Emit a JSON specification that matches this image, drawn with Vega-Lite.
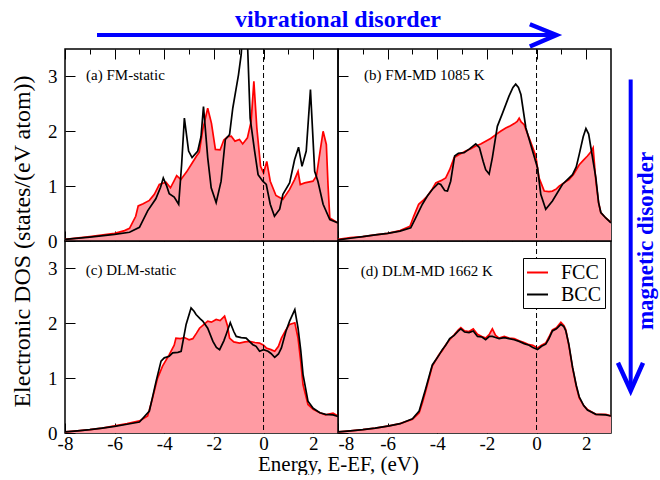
{
  "$schema": "https://vega.github.io/schema/vega-lite/v6.json",
  "padding": {"left": 9, "top": 6, "right": 0, "bottom": 0},
  "background": "white",
  "config": {
    "view": {"stroke": "#000", "strokeWidth": 1.5},
    "font": "Liberation Serif",
    "axis": {"domain": false, "grid": false, "tickColor": "#000", "tickWidth": 1, "labelFont": "Liberation Serif", "labelFontSize": 19, "labelColor": "#000", "titleFont": "Liberation Serif", "titleFontSize": 21, "titleFontWeight": "normal", "titleColor": "#000", "labelFlush": false},
    "text": {"font": "Liberation Serif"}
  },
  "datasets": {
    "dos": [
      {"p":"a","s":"FCC","E":-8,"d":0.03},{"p":"a","s":"FCC","E":-7,"d":0.08},{"p":"a","s":"FCC","E":-6,"d":0.14},{"p":"a","s":"FCC","E":-5.6,"d":0.19},{"p":"a","s":"FCC","E":-5.4,"d":0.23},{"p":"a","s":"FCC","E":-5.15,"d":0.45},{"p":"a","s":"FCC","E":-5.05,"d":0.64},{"p":"a","s":"FCC","E":-4.85,"d":0.68},{"p":"a","s":"FCC","E":-4.6,"d":0.74},{"p":"a","s":"FCC","E":-4.4,"d":0.85},{"p":"a","s":"FCC","E":-4.2,"d":1.03},{"p":"a","s":"FCC","E":-3.93,"d":1.07},{"p":"a","s":"FCC","E":-3.75,"d":0.97},{"p":"a","s":"FCC","E":-3.6,"d":1.1},{"p":"a","s":"FCC","E":-3.5,"d":1.19},{"p":"a","s":"FCC","E":-3.33,"d":1.12},{"p":"a","s":"FCC","E":-3.1,"d":1.26},{"p":"a","s":"FCC","E":-2.92,"d":1.39},{"p":"a","s":"FCC","E":-2.7,"d":1.55},{"p":"a","s":"FCC","E":-2.59,"d":1.62},{"p":"a","s":"FCC","E":-2.45,"d":2.03},{"p":"a","s":"FCC","E":-2.25,"d":2.42},{"p":"a","s":"FCC","E":-2.1,"d":2.15},{"p":"a","s":"FCC","E":-1.94,"d":1.67},{"p":"a","s":"FCC","E":-1.75,"d":1.66},{"p":"a","s":"FCC","E":-1.6,"d":1.84},{"p":"a","s":"FCC","E":-1.45,"d":1.9},{"p":"a","s":"FCC","E":-1.3,"d":1.91},{"p":"a","s":"FCC","E":-1.15,"d":1.82},{"p":"a","s":"FCC","E":-0.97,"d":1.85},{"p":"a","s":"FCC","E":-0.84,"d":1.77},{"p":"a","s":"FCC","E":-0.65,"d":1.88},{"p":"a","s":"FCC","E":-0.5,"d":2.18},{"p":"a","s":"FCC","E":-0.39,"d":2.91},{"p":"a","s":"FCC","E":-0.27,"d":2.06},{"p":"a","s":"FCC","E":-0.12,"d":1.36},{"p":"a","s":"FCC","E":0,"d":1.24},{"p":"a","s":"FCC","E":0.13,"d":1.45},{"p":"a","s":"FCC","E":0.27,"d":1.09},{"p":"a","s":"FCC","E":0.5,"d":0.83},{"p":"a","s":"FCC","E":0.78,"d":0.76},{"p":"a","s":"FCC","E":1.05,"d":0.94},{"p":"a","s":"FCC","E":1.25,"d":1.12},{"p":"a","s":"FCC","E":1.39,"d":1.27},{"p":"a","s":"FCC","E":1.48,"d":1.03},{"p":"a","s":"FCC","E":1.66,"d":1.06},{"p":"a","s":"FCC","E":1.99,"d":1.09},{"p":"a","s":"FCC","E":2.13,"d":1.18},{"p":"a","s":"FCC","E":2.3,"d":1.7},{"p":"a","s":"FCC","E":2.4,"d":2.0},{"p":"a","s":"FCC","E":2.53,"d":1.76},{"p":"a","s":"FCC","E":2.6,"d":1.0},{"p":"a","s":"FCC","E":2.67,"d":0.42},{"p":"a","s":"FCC","E":3,"d":0.33},
      {"p":"a","s":"BCC","E":-8,"d":0.03},{"p":"a","s":"BCC","E":-7,"d":0.07},{"p":"a","s":"BCC","E":-6,"d":0.12},{"p":"a","s":"BCC","E":-5.4,"d":0.16},{"p":"a","s":"BCC","E":-5.0,"d":0.25},{"p":"a","s":"BCC","E":-4.67,"d":0.55},{"p":"a","s":"BCC","E":-4.34,"d":0.77},{"p":"a","s":"BCC","E":-4.15,"d":0.98},{"p":"a","s":"BCC","E":-4.04,"d":1.15},{"p":"a","s":"BCC","E":-3.9,"d":1.0},{"p":"a","s":"BCC","E":-3.8,"d":0.86},{"p":"a","s":"BCC","E":-3.6,"d":0.8},{"p":"a","s":"BCC","E":-3.42,"d":0.67},{"p":"a","s":"BCC","E":-3.3,"d":1.4},{"p":"a","s":"BCC","E":-3.19,"d":2.24},{"p":"a","s":"BCC","E":-3.02,"d":1.64},{"p":"a","s":"BCC","E":-2.88,"d":1.52},{"p":"a","s":"BCC","E":-2.65,"d":1.64},{"p":"a","s":"BCC","E":-2.52,"d":1.9},{"p":"a","s":"BCC","E":-2.42,"d":2.45},{"p":"a","s":"BCC","E":-2.25,"d":1.52},{"p":"a","s":"BCC","E":-2.11,"d":0.97},{"p":"a","s":"BCC","E":-1.91,"d":0.7},{"p":"a","s":"BCC","E":-1.71,"d":1.09},{"p":"a","s":"BCC","E":-1.54,"d":1.85},{"p":"a","s":"BCC","E":-1.37,"d":1.94},{"p":"a","s":"BCC","E":-1.24,"d":2.42},{"p":"a","s":"BCC","E":-1.1,"d":2.79},{"p":"a","s":"BCC","E":-1.01,"d":3.03},{"p":"a","s":"BCC","E":-0.9,"d":3.4},{"p":"a","s":"BCC","E":-0.8,"d":4.2},{"p":"a","s":"BCC","E":-0.7,"d":4.2},{"p":"a","s":"BCC","E":-0.63,"d":3.4},{"p":"a","s":"BCC","E":-0.54,"d":2.24},{"p":"a","s":"BCC","E":-0.36,"d":1.64},{"p":"a","s":"BCC","E":-0.22,"d":1.21},{"p":"a","s":"BCC","E":-0.03,"d":1.09},{"p":"a","s":"BCC","E":0.11,"d":1.03},{"p":"a","s":"BCC","E":0.27,"d":0.67},{"p":"a","s":"BCC","E":0.44,"d":0.45},{"p":"a","s":"BCC","E":0.65,"d":0.58},{"p":"a","s":"BCC","E":0.78,"d":0.85},{"p":"a","s":"BCC","E":1.05,"d":1.06},{"p":"a","s":"BCC","E":1.25,"d":1.48},{"p":"a","s":"BCC","E":1.41,"d":1.71},{"p":"a","s":"BCC","E":1.55,"d":1.36},{"p":"a","s":"BCC","E":1.72,"d":1.64},{"p":"a","s":"BCC","E":1.89,"d":2.76},{"p":"a","s":"BCC","E":2.06,"d":1.27},{"p":"a","s":"BCC","E":2.19,"d":1.09},{"p":"a","s":"BCC","E":2.4,"d":0.67},{"p":"a","s":"BCC","E":2.67,"d":0.39},{"p":"a","s":"BCC","E":3,"d":0.33},
      {"p":"b","s":"FCC","E":-8,"d":0.03},{"p":"b","s":"FCC","E":-7.5,"d":0.06},{"p":"b","s":"FCC","E":-7,"d":0.08},{"p":"b","s":"FCC","E":-6.5,"d":0.11},{"p":"b","s":"FCC","E":-6,"d":0.14},{"p":"b","s":"FCC","E":-5.5,"d":0.19},{"p":"b","s":"FCC","E":-5.1,"d":0.27},{"p":"b","s":"FCC","E":-4.95,"d":0.45},{"p":"b","s":"FCC","E":-4.75,"d":0.67},{"p":"b","s":"FCC","E":-4.55,"d":0.75},{"p":"b","s":"FCC","E":-4.4,"d":0.82},{"p":"b","s":"FCC","E":-4.2,"d":0.95},{"p":"b","s":"FCC","E":-4.06,"d":1.06},{"p":"b","s":"FCC","E":-3.85,"d":1.1},{"p":"b","s":"FCC","E":-3.66,"d":1.15},{"p":"b","s":"FCC","E":-3.5,"d":1.3},{"p":"b","s":"FCC","E":-3.32,"d":1.52},{"p":"b","s":"FCC","E":-3.1,"d":1.58},{"p":"b","s":"FCC","E":-2.85,"d":1.64},{"p":"b","s":"FCC","E":-2.65,"d":1.68},{"p":"b","s":"FCC","E":-2.45,"d":1.73},{"p":"b","s":"FCC","E":-2.25,"d":1.77},{"p":"b","s":"FCC","E":-2.05,"d":1.82},{"p":"b","s":"FCC","E":-1.85,"d":1.87},{"p":"b","s":"FCC","E":-1.64,"d":1.94},{"p":"b","s":"FCC","E":-1.45,"d":2.0},{"p":"b","s":"FCC","E":-1.24,"d":2.06},{"p":"b","s":"FCC","E":-1.05,"d":2.1},{"p":"b","s":"FCC","E":-0.9,"d":2.14},{"p":"b","s":"FCC","E":-0.78,"d":2.18},{"p":"b","s":"FCC","E":-0.7,"d":2.24},{"p":"b","s":"FCC","E":-0.62,"d":2.17},{"p":"b","s":"FCC","E":-0.5,"d":2.12},{"p":"b","s":"FCC","E":-0.3,"d":1.88},{"p":"b","s":"FCC","E":-0.15,"d":1.7},{"p":"b","s":"FCC","E":-0.03,"d":1.55},{"p":"b","s":"FCC","E":0.1,"d":1.15},{"p":"b","s":"FCC","E":0.31,"d":0.91},{"p":"b","s":"FCC","E":0.5,"d":0.9},{"p":"b","s":"FCC","E":0.64,"d":0.91},{"p":"b","s":"FCC","E":0.8,"d":0.95},{"p":"b","s":"FCC","E":0.91,"d":1.0},{"p":"b","s":"FCC","E":1.1,"d":1.06},{"p":"b","s":"FCC","E":1.31,"d":1.12},{"p":"b","s":"FCC","E":1.5,"d":1.22},{"p":"b","s":"FCC","E":1.72,"d":1.39},{"p":"b","s":"FCC","E":1.9,"d":1.48},{"p":"b","s":"FCC","E":2.05,"d":1.55},{"p":"b","s":"FCC","E":2.2,"d":1.63},{"p":"b","s":"FCC","E":2.28,"d":1.7},{"p":"b","s":"FCC","E":2.39,"d":1.09},{"p":"b","s":"FCC","E":2.5,"d":0.7},{"p":"b","s":"FCC","E":2.59,"d":0.52},{"p":"b","s":"FCC","E":2.79,"d":0.42},{"p":"b","s":"FCC","E":3,"d":0.34},
      {"p":"b","s":"BCC","E":-8,"d":0.02},{"p":"b","s":"BCC","E":-7.5,"d":0.05},{"p":"b","s":"BCC","E":-7,"d":0.08},{"p":"b","s":"BCC","E":-6.5,"d":0.11},{"p":"b","s":"BCC","E":-6,"d":0.14},{"p":"b","s":"BCC","E":-5.5,"d":0.18},{"p":"b","s":"BCC","E":-5.07,"d":0.24},{"p":"b","s":"BCC","E":-4.87,"d":0.42},{"p":"b","s":"BCC","E":-4.6,"d":0.67},{"p":"b","s":"BCC","E":-4.4,"d":0.82},{"p":"b","s":"BCC","E":-4.2,"d":0.94},{"p":"b","s":"BCC","E":-3.96,"d":1.05},{"p":"b","s":"BCC","E":-3.86,"d":1.03},{"p":"b","s":"BCC","E":-3.7,"d":0.92},{"p":"b","s":"BCC","E":-3.59,"d":0.91},{"p":"b","s":"BCC","E":-3.46,"d":1.09},{"p":"b","s":"BCC","E":-3.3,"d":1.55},{"p":"b","s":"BCC","E":-3.15,"d":1.6},{"p":"b","s":"BCC","E":-2.92,"d":1.61},{"p":"b","s":"BCC","E":-2.7,"d":1.68},{"p":"b","s":"BCC","E":-2.45,"d":1.77},{"p":"b","s":"BCC","E":-2.3,"d":1.7},{"p":"b","s":"BCC","E":-2.15,"d":1.45},{"p":"b","s":"BCC","E":-2.05,"d":1.3},{"p":"b","s":"BCC","E":-1.91,"d":1.22},{"p":"b","s":"BCC","E":-1.78,"d":1.52},{"p":"b","s":"BCC","E":-1.58,"d":2.09},{"p":"b","s":"BCC","E":-1.37,"d":2.33},{"p":"b","s":"BCC","E":-1.11,"d":2.64},{"p":"b","s":"BCC","E":-0.95,"d":2.8},{"p":"b","s":"BCC","E":-0.84,"d":2.86},{"p":"b","s":"BCC","E":-0.73,"d":2.8},{"p":"b","s":"BCC","E":-0.63,"d":2.67},{"p":"b","s":"BCC","E":-0.43,"d":2.06},{"p":"b","s":"BCC","E":-0.16,"d":1.64},{"p":"b","s":"BCC","E":0.04,"d":1.33},{"p":"b","s":"BCC","E":0.17,"d":0.85},{"p":"b","s":"BCC","E":0.37,"d":0.58},{"p":"b","s":"BCC","E":0.64,"d":0.73},{"p":"b","s":"BCC","E":1.04,"d":1.03},{"p":"b","s":"BCC","E":1.45,"d":1.21},{"p":"b","s":"BCC","E":1.6,"d":1.35},{"p":"b","s":"BCC","E":1.72,"d":1.58},{"p":"b","s":"BCC","E":1.88,"d":1.9},{"p":"b","s":"BCC","E":1.99,"d":2.05},{"p":"b","s":"BCC","E":2.1,"d":1.95},{"p":"b","s":"BCC","E":2.19,"d":1.7},{"p":"b","s":"BCC","E":2.39,"d":1.15},{"p":"b","s":"BCC","E":2.5,"d":0.7},{"p":"b","s":"BCC","E":2.59,"d":0.52},{"p":"b","s":"BCC","E":2.79,"d":0.42},{"p":"b","s":"BCC","E":3,"d":0.33},
      {"p":"c","s":"FCC","E":-8,"d":0.02},{"p":"c","s":"FCC","E":-7.5,"d":0.04},{"p":"c","s":"FCC","E":-7,"d":0.06},{"p":"c","s":"FCC","E":-6.5,"d":0.09},{"p":"c","s":"FCC","E":-6,"d":0.13},{"p":"c","s":"FCC","E":-5.5,"d":0.17},{"p":"c","s":"FCC","E":-5,"d":0.22},{"p":"c","s":"FCC","E":-4.67,"d":0.31},{"p":"c","s":"FCC","E":-4.47,"d":0.64},{"p":"c","s":"FCC","E":-4.27,"d":1.0},{"p":"c","s":"FCC","E":-4.07,"d":1.22},{"p":"c","s":"FCC","E":-3.8,"d":1.43},{"p":"c","s":"FCC","E":-3.6,"d":1.6},{"p":"c","s":"FCC","E":-3.53,"d":1.73},{"p":"c","s":"FCC","E":-3.35,"d":1.72},{"p":"c","s":"FCC","E":-3.19,"d":1.74},{"p":"c","s":"FCC","E":-3.0,"d":1.7},{"p":"c","s":"FCC","E":-2.85,"d":1.72},{"p":"c","s":"FCC","E":-2.7,"d":1.82},{"p":"c","s":"FCC","E":-2.58,"d":1.91},{"p":"c","s":"FCC","E":-2.4,"d":1.98},{"p":"c","s":"FCC","E":-2.25,"d":2.04},{"p":"c","s":"FCC","E":-2.1,"d":2.02},{"p":"c","s":"FCC","E":-1.91,"d":2.07},{"p":"c","s":"FCC","E":-1.75,"d":2.05},{"p":"c","s":"FCC","E":-1.57,"d":2.13},{"p":"c","s":"FCC","E":-1.45,"d":1.95},{"p":"c","s":"FCC","E":-1.37,"d":1.73},{"p":"c","s":"FCC","E":-1.2,"d":1.66},{"p":"c","s":"FCC","E":-0.97,"d":1.64},{"p":"c","s":"FCC","E":-0.75,"d":1.66},{"p":"c","s":"FCC","E":-0.56,"d":1.67},{"p":"c","s":"FCC","E":-0.35,"d":1.65},{"p":"c","s":"FCC","E":-0.16,"d":1.64},{"p":"c","s":"FCC","E":0.0,"d":1.6},{"p":"c","s":"FCC","E":0.11,"d":1.55},{"p":"c","s":"FCC","E":0.3,"d":1.52},{"p":"c","s":"FCC","E":0.45,"d":1.49},{"p":"c","s":"FCC","E":0.6,"d":1.58},{"p":"c","s":"FCC","E":0.72,"d":1.73},{"p":"c","s":"FCC","E":0.9,"d":1.88},{"p":"c","s":"FCC","E":1.05,"d":1.98},{"p":"c","s":"FCC","E":1.26,"d":2.01},{"p":"c","s":"FCC","E":1.39,"d":1.73},{"p":"c","s":"FCC","E":1.5,"d":1.3},{"p":"c","s":"FCC","E":1.59,"d":0.88},{"p":"c","s":"FCC","E":1.79,"d":0.52},{"p":"c","s":"FCC","E":2.0,"d":0.43},{"p":"c","s":"FCC","E":2.27,"d":0.37},{"p":"c","s":"FCC","E":2.5,"d":0.33},{"p":"c","s":"FCC","E":2.8,"d":0.36},{"p":"c","s":"FCC","E":3,"d":0.31},
      {"p":"c","s":"BCC","E":-8,"d":0.02},{"p":"c","s":"BCC","E":-7.5,"d":0.04},{"p":"c","s":"BCC","E":-7,"d":0.06},{"p":"c","s":"BCC","E":-6.5,"d":0.09},{"p":"c","s":"BCC","E":-6,"d":0.12},{"p":"c","s":"BCC","E":-5.5,"d":0.16},{"p":"c","s":"BCC","E":-5,"d":0.2},{"p":"c","s":"BCC","E":-4.6,"d":0.4},{"p":"c","s":"BCC","E":-4.45,"d":0.7},{"p":"c","s":"BCC","E":-4.33,"d":0.94},{"p":"c","s":"BCC","E":-4.13,"d":1.31},{"p":"c","s":"BCC","E":-4.0,"d":1.37},{"p":"c","s":"BCC","E":-3.8,"d":1.4},{"p":"c","s":"BCC","E":-3.66,"d":1.46},{"p":"c","s":"BCC","E":-3.45,"d":1.47},{"p":"c","s":"BCC","E":-3.32,"d":1.49},{"p":"c","s":"BCC","E":-3.12,"d":1.98},{"p":"c","s":"BCC","E":-2.92,"d":2.28},{"p":"c","s":"BCC","E":-2.8,"d":2.22},{"p":"c","s":"BCC","E":-2.72,"d":2.16},{"p":"c","s":"BCC","E":-2.55,"d":2.08},{"p":"c","s":"BCC","E":-2.45,"d":2.04},{"p":"c","s":"BCC","E":-2.25,"d":1.91},{"p":"c","s":"BCC","E":-2.04,"d":1.67},{"p":"c","s":"BCC","E":-1.9,"d":1.56},{"p":"c","s":"BCC","E":-1.77,"d":1.52},{"p":"c","s":"BCC","E":-1.6,"d":1.68},{"p":"c","s":"BCC","E":-1.51,"d":1.79},{"p":"c","s":"BCC","E":-1.34,"d":2.01},{"p":"c","s":"BCC","E":-1.2,"d":1.85},{"p":"c","s":"BCC","E":-1.1,"d":1.76},{"p":"c","s":"BCC","E":-0.9,"d":1.74},{"p":"c","s":"BCC","E":-0.7,"d":1.73},{"p":"c","s":"BCC","E":-0.55,"d":1.66},{"p":"c","s":"BCC","E":-0.43,"d":1.61},{"p":"c","s":"BCC","E":-0.3,"d":1.58},{"p":"c","s":"BCC","E":-0.16,"d":1.49},{"p":"c","s":"BCC","E":0.0,"d":1.52},{"p":"c","s":"BCC","E":0.18,"d":1.49},{"p":"c","s":"BCC","E":0.3,"d":1.45},{"p":"c","s":"BCC","E":0.45,"d":1.38},{"p":"c","s":"BCC","E":0.6,"d":1.44},{"p":"c","s":"BCC","E":0.72,"d":1.55},{"p":"c","s":"BCC","E":0.9,"d":1.85},{"p":"c","s":"BCC","E":1.05,"d":2.04},{"p":"c","s":"BCC","E":1.26,"d":2.25},{"p":"c","s":"BCC","E":1.39,"d":1.91},{"p":"c","s":"BCC","E":1.5,"d":1.5},{"p":"c","s":"BCC","E":1.59,"d":1.07},{"p":"c","s":"BCC","E":1.79,"d":0.58},{"p":"c","s":"BCC","E":2.0,"d":0.45},{"p":"c","s":"BCC","E":2.27,"d":0.37},{"p":"c","s":"BCC","E":2.5,"d":0.34},{"p":"c","s":"BCC","E":2.8,"d":0.33},{"p":"c","s":"BCC","E":3,"d":0.3},
      {"p":"d","s":"FCC","E":-8,"d":0.02},{"p":"d","s":"FCC","E":-7.5,"d":0.04},{"p":"d","s":"FCC","E":-7,"d":0.06},{"p":"d","s":"FCC","E":-6.5,"d":0.09},{"p":"d","s":"FCC","E":-5.94,"d":0.13},{"p":"d","s":"FCC","E":-5.5,"d":0.17},{"p":"d","s":"FCC","E":-5.0,"d":0.25},{"p":"d","s":"FCC","E":-4.73,"d":0.37},{"p":"d","s":"FCC","E":-4.6,"d":0.55},{"p":"d","s":"FCC","E":-4.47,"d":0.76},{"p":"d","s":"FCC","E":-4.3,"d":1.05},{"p":"d","s":"FCC","E":-4.2,"d":1.22},{"p":"d","s":"FCC","E":-3.93,"d":1.43},{"p":"d","s":"FCC","E":-3.8,"d":1.5},{"p":"d","s":"FCC","E":-3.66,"d":1.61},{"p":"d","s":"FCC","E":-3.5,"d":1.7},{"p":"d","s":"FCC","E":-3.32,"d":1.79},{"p":"d","s":"FCC","E":-3.15,"d":1.88},{"p":"d","s":"FCC","E":-3.05,"d":1.92},{"p":"d","s":"FCC","E":-2.9,"d":1.86},{"p":"d","s":"FCC","E":-2.72,"d":1.85},{"p":"d","s":"FCC","E":-2.55,"d":1.9},{"p":"d","s":"FCC","E":-2.38,"d":1.8},{"p":"d","s":"FCC","E":-2.2,"d":1.76},{"p":"d","s":"FCC","E":-2.05,"d":1.73},{"p":"d","s":"FCC","E":-1.9,"d":1.8},{"p":"d","s":"FCC","E":-1.78,"d":1.9},{"p":"d","s":"FCC","E":-1.65,"d":1.78},{"p":"d","s":"FCC","E":-1.51,"d":1.73},{"p":"d","s":"FCC","E":-1.3,"d":1.76},{"p":"d","s":"FCC","E":-1.11,"d":1.73},{"p":"d","s":"FCC","E":-0.9,"d":1.72},{"p":"d","s":"FCC","E":-0.7,"d":1.68},{"p":"d","s":"FCC","E":-0.5,"d":1.65},{"p":"d","s":"FCC","E":-0.3,"d":1.61},{"p":"d","s":"FCC","E":-0.15,"d":1.6},{"p":"d","s":"FCC","E":0.04,"d":1.55},{"p":"d","s":"FCC","E":0.2,"d":1.6},{"p":"d","s":"FCC","E":0.37,"d":1.64},{"p":"d","s":"FCC","E":0.5,"d":1.75},{"p":"d","s":"FCC","E":0.64,"d":1.88},{"p":"d","s":"FCC","E":0.8,"d":1.92},{"p":"d","s":"FCC","E":0.98,"d":2.02},{"p":"d","s":"FCC","E":1.1,"d":1.96},{"p":"d","s":"FCC","E":1.18,"d":1.88},{"p":"d","s":"FCC","E":1.3,"d":1.6},{"p":"d","s":"FCC","E":1.45,"d":1.19},{"p":"d","s":"FCC","E":1.6,"d":0.85},{"p":"d","s":"FCC","E":1.72,"d":0.64},{"p":"d","s":"FCC","E":1.9,"d":0.5},{"p":"d","s":"FCC","E":2.05,"d":0.43},{"p":"d","s":"FCC","E":2.39,"d":0.34},{"p":"d","s":"FCC","E":2.79,"d":0.34},{"p":"d","s":"FCC","E":3,"d":0.31},
      {"p":"d","s":"BCC","E":-8,"d":0.02},{"p":"d","s":"BCC","E":-7.5,"d":0.04},{"p":"d","s":"BCC","E":-7,"d":0.06},{"p":"d","s":"BCC","E":-6.5,"d":0.09},{"p":"d","s":"BCC","E":-5.94,"d":0.13},{"p":"d","s":"BCC","E":-5.5,"d":0.17},{"p":"d","s":"BCC","E":-5.0,"d":0.26},{"p":"d","s":"BCC","E":-4.73,"d":0.4},{"p":"d","s":"BCC","E":-4.6,"d":0.6},{"p":"d","s":"BCC","E":-4.47,"d":0.8},{"p":"d","s":"BCC","E":-4.3,"d":1.08},{"p":"d","s":"BCC","E":-4.2,"d":1.24},{"p":"d","s":"BCC","E":-3.93,"d":1.42},{"p":"d","s":"BCC","E":-3.8,"d":1.52},{"p":"d","s":"BCC","E":-3.66,"d":1.6},{"p":"d","s":"BCC","E":-3.5,"d":1.72},{"p":"d","s":"BCC","E":-3.32,"d":1.78},{"p":"d","s":"BCC","E":-3.15,"d":1.86},{"p":"d","s":"BCC","E":-3.05,"d":1.9},{"p":"d","s":"BCC","E":-2.9,"d":1.84},{"p":"d","s":"BCC","E":-2.72,"d":1.83},{"p":"d","s":"BCC","E":-2.55,"d":1.86},{"p":"d","s":"BCC","E":-2.38,"d":1.76},{"p":"d","s":"BCC","E":-2.2,"d":1.75},{"p":"d","s":"BCC","E":-2.05,"d":1.7},{"p":"d","s":"BCC","E":-1.9,"d":1.76},{"p":"d","s":"BCC","E":-1.78,"d":1.76},{"p":"d","s":"BCC","E":-1.65,"d":1.74},{"p":"d","s":"BCC","E":-1.51,"d":1.72},{"p":"d","s":"BCC","E":-1.3,"d":1.74},{"p":"d","s":"BCC","E":-1.11,"d":1.72},{"p":"d","s":"BCC","E":-0.9,"d":1.7},{"p":"d","s":"BCC","E":-0.7,"d":1.67},{"p":"d","s":"BCC","E":-0.5,"d":1.63},{"p":"d","s":"BCC","E":-0.3,"d":1.6},{"p":"d","s":"BCC","E":-0.15,"d":1.56},{"p":"d","s":"BCC","E":0.04,"d":1.52},{"p":"d","s":"BCC","E":0.2,"d":1.58},{"p":"d","s":"BCC","E":0.37,"d":1.62},{"p":"d","s":"BCC","E":0.5,"d":1.72},{"p":"d","s":"BCC","E":0.64,"d":1.86},{"p":"d","s":"BCC","E":0.8,"d":1.9},{"p":"d","s":"BCC","E":0.98,"d":1.98},{"p":"d","s":"BCC","E":1.1,"d":1.94},{"p":"d","s":"BCC","E":1.18,"d":1.86},{"p":"d","s":"BCC","E":1.3,"d":1.62},{"p":"d","s":"BCC","E":1.45,"d":1.2},{"p":"d","s":"BCC","E":1.6,"d":0.87},{"p":"d","s":"BCC","E":1.72,"d":0.66},{"p":"d","s":"BCC","E":1.9,"d":0.5},{"p":"d","s":"BCC","E":2.05,"d":0.42},{"p":"d","s":"BCC","E":2.39,"d":0.34},{"p":"d","s":"BCC","E":2.79,"d":0.33},{"p":"d","s":"BCC","E":3,"d":0.31}
    ]
  },
  "columns": 2,
  "spacing": 0,
  "bounds": "flush",
  "resolve": {"scale": {"x": "independent", "y": "independent", "color": "independent"}, "axis": {"x": "independent", "y": "independent"}, "legend": {"color": "independent"}},
  "concat": [
    {
      "width": 273, "height": 192,
      "resolve": {"axis": {"x": "independent"}},
      "layer": [
        {"data": {"name": "dos"}, "transform": [{"filter": "datum.p === 'a' && datum.s === 'FCC'"}],
         "mark": {"type": "area", "color": "#ff9ba3", "opacity": 1, "clip": true},
         "encoding": {
           "x": {"field": "E", "type": "quantitative", "scale": {"domain": [-8, 3]}, "axis": {"orient": "bottom", "values": [-8,-7,-6,-5,-4,-3,-2,-1,0,1,2], "labels": false, "tickSize": {"condition": {"test": "datum.value % 2 === 0", "value": -10}, "value": -5}, "title": null}},
           "y": {"field": "d", "type": "quantitative", "scale": {"domain": [0, 3.5]}, "axis": {"orient": "left", "values": [0,0.5,1,1.5,2,2.5,3], "labelExpr": "datum.value % 1 === 0 ? '' + datum.value : ''", "tickSize": {"condition": {"test": "datum.value % 1 === 0", "value": -10}, "value": -5}, "labelPadding": 18, "title": "Electronic DOS (states/(eV atom))", "titleFontSize": 24, "titleY": 192, "titlePadding": 13}}}},
        {"data": {"name": "dos"}, "transform": [{"filter": "datum.p === 'a'"}],
         "mark": {"type": "line", "strokeWidth": 1.7, "clip": true},
         "encoding": {"x": {"field": "E", "type": "quantitative", "axis": null}, "y": {"field": "d", "type": "quantitative"},
           "color": {"field": "s", "type": "nominal", "scale": {"domain": ["FCC", "BCC"], "range": ["#ff0000", "#000000"]}, "legend": null}}},
        {"data": {"values": [{"E": 0}]},
         "mark": {"type": "rule", "color": "#000", "strokeWidth": 1, "strokeDash": [5, 3]},
         "encoding": {"x": {"field": "E", "type": "quantitative", "axis": {"orient": "top", "values": [-8,-7,-6,-5,-4,-3,-2,-1,0,1,2], "labels": false, "tickSize": {"condition": {"test": "datum.value % 2 === 0", "value": -10}, "value": -5}, "title": null}}}},
        {"data": {"values": [{"E": -7.15, "d": 3.03, "t": "(a) FM-static"}]},
         "mark": {"type": "text", "align": "left", "baseline": "middle", "font": "Liberation Serif", "fontSize": 15, "color": "#000"},
         "encoding": {"x": {"field": "E", "type": "quantitative", "axis": null}, "y": {"field": "d", "type": "quantitative"}, "text": {"field": "t"}}},
        {"data": {"values": [{"E": -6.71, "E2": 11.74, "d": 3.755}]},
         "mark": {"type": "rule", "color": "#0000ff", "strokeWidth": 4, "clip": false},
         "encoding": {"x": {"field": "E", "type": "quantitative", "axis": null}, "x2": {"field": "E2"}, "y": {"field": "d", "type": "quantitative"}}},
        {"data": {"values": [{"E": 10.73, "d": 3.951, "o": 1}, {"E": 11.8, "d": 3.755, "o": 2}, {"E": 10.73, "d": 3.545, "o": 3}]},
         "mark": {"type": "line", "color": "#0000ff", "strokeWidth": 4.5, "strokeJoin": "miter", "clip": false},
         "encoding": {"x": {"field": "E", "type": "quantitative", "axis": null}, "y": {"field": "d", "type": "quantitative"}, "order": {"field": "o"}}},
        {"data": {"values": [{"E": 3, "d": 3.91, "t": "vibrational disorder"}]},
         "mark": {"type": "text", "font": "Liberation Serif", "fontSize": 24, "fontWeight": "bold", "color": "#0000ff", "baseline": "alphabetic", "align": "center"},
         "encoding": {"x": {"field": "E", "type": "quantitative", "axis": null}, "y": {"field": "d", "type": "quantitative"}, "text": {"field": "t"}}}
      ]
    },
    {
      "width": 273, "height": 192,
      "resolve": {"axis": {"x": "independent"}},
      "layer": [
        {"data": {"name": "dos"}, "transform": [{"filter": "datum.p === 'b' && datum.s === 'FCC'"}],
         "mark": {"type": "area", "color": "#ff9ba3", "opacity": 1, "clip": true},
         "encoding": {
           "x": {"field": "E", "type": "quantitative", "scale": {"domain": [-8, 3]}, "axis": {"orient": "bottom", "values": [-8,-7,-6,-5,-4,-3,-2,-1,0,1,2], "labels": false, "tickSize": {"condition": {"test": "datum.value % 2 === 0", "value": -10}, "value": -5}, "title": null}},
           "y": {"field": "d", "type": "quantitative", "scale": {"domain": [0, 3.5]}, "axis": {"orient": "left", "values": [0,0.5,1,1.5,2,2.5,3], "labels": false, "tickSize": {"condition": {"test": "datum.value % 1 === 0", "value": -10}, "value": -5}, "title": null}}}},
        {"data": {"name": "dos"}, "transform": [{"filter": "datum.p === 'b'"}],
         "mark": {"type": "line", "strokeWidth": 1.7, "clip": true},
         "encoding": {"x": {"field": "E", "type": "quantitative", "axis": null}, "y": {"field": "d", "type": "quantitative"},
           "color": {"field": "s", "type": "nominal", "scale": {"domain": ["FCC", "BCC"], "range": ["#ff0000", "#000000"]}, "legend": null}}},
        {"data": {"values": [{"E": 0}]},
         "mark": {"type": "rule", "color": "#000", "strokeWidth": 1, "strokeDash": [5, 3]},
         "encoding": {"x": {"field": "E", "type": "quantitative", "axis": {"orient": "top", "values": [-8,-7,-6,-5,-4,-3,-2,-1,0,1,2], "labels": false, "tickSize": {"condition": {"test": "datum.value % 2 === 0", "value": -10}, "value": -5}, "title": null}}}},
        {"data": {"values": [{"E": -6.95, "d": 3.03, "t": "(b) FM-MD 1085 K"}]},
         "mark": {"type": "text", "align": "left", "baseline": "middle", "font": "Liberation Serif", "fontSize": 15, "color": "#000"},
         "encoding": {"x": {"field": "E", "type": "quantitative", "axis": null}, "y": {"field": "d", "type": "quantitative"}, "text": {"field": "t"}}},
        {"data": {"values": [{"E": 3.793, "d": 2.945, "d2": -2.66}]},
         "mark": {"type": "rule", "color": "#0000ff", "strokeWidth": 4, "clip": false},
         "encoding": {"x": {"field": "E", "type": "quantitative", "axis": null}, "y": {"field": "d", "type": "quantitative"}, "y2": {"field": "d2"}}},
        {"data": {"values": [{"E": 3.28, "d": -2.22, "o": 1}, {"E": 3.793, "d": -2.73, "o": 2}, {"E": 4.29, "d": -2.22, "o": 3}]},
         "mark": {"type": "line", "color": "#0000ff", "strokeWidth": 4.5, "strokeJoin": "miter", "clip": false},
         "encoding": {"x": {"field": "E", "type": "quantitative", "axis": null}, "y": {"field": "d", "type": "quantitative"}, "order": {"field": "o"}}},
        {"data": {"values": [{"E": 4.43, "d": 0, "t": "magnetic disorder"}]},
         "mark": {"type": "text", "font": "Liberation Serif", "fontSize": 23, "fontWeight": "bold", "color": "#0000ff", "baseline": "middle", "align": "center", "angle": 270},
         "encoding": {"x": {"field": "E", "type": "quantitative", "axis": null}, "y": {"field": "d", "type": "quantitative"}, "text": {"field": "t"}}}
      ]
    },
    {
      "width": 273, "height": 192,
      "layer": [
        {"data": {"name": "dos"}, "transform": [{"filter": "datum.p === 'c' && datum.s === 'FCC'"}],
         "mark": {"type": "area", "color": "#ff9ba3", "opacity": 1, "clip": true},
         "encoding": {
           "x": {"field": "E", "type": "quantitative", "scale": {"domain": [-8, 3]}, "axis": {"orient": "bottom", "values": [-8,-7,-6,-5,-4,-3,-2,-1,0,1,2], "labelExpr": "datum.value % 2 === 0 ? '' + datum.value : ''", "tickSize": {"condition": {"test": "datum.value % 2 === 0", "value": -10}, "value": -5}, "labelPadding": 11, "title": "Energy, E-EF, (eV)", "titleX": 273, "titlePadding": 0}},
           "y": {"field": "d", "type": "quantitative", "scale": {"domain": [0, 3.5]}, "axis": {"orient": "left", "values": [0,0.5,1,1.5,2,2.5,3], "labelExpr": "datum.value % 1 === 0 ? '' + datum.value : ''", "tickSize": {"condition": {"test": "datum.value % 1 === 0", "value": -10}, "value": -5}, "labelPadding": 18, "title": null}}}},
        {"data": {"name": "dos"}, "transform": [{"filter": "datum.p === 'c'"}],
         "mark": {"type": "line", "strokeWidth": 1.7, "clip": true},
         "encoding": {"x": {"field": "E", "type": "quantitative"}, "y": {"field": "d", "type": "quantitative"},
           "color": {"field": "s", "type": "nominal", "scale": {"domain": ["FCC", "BCC"], "range": ["#ff0000", "#000000"]}, "legend": null}}},
        {"data": {"values": [{"E": 0}]},
         "mark": {"type": "rule", "color": "#000", "strokeWidth": 1, "strokeDash": [5, 3]},
         "encoding": {"x": {"field": "E", "type": "quantitative"}}},
        {"data": {"values": [{"E": -7.16, "d": 2.98, "t": "(c) DLM-static"}]},
         "mark": {"type": "text", "align": "left", "baseline": "middle", "font": "Liberation Serif", "fontSize": 15, "color": "#000"},
         "encoding": {"x": {"field": "E", "type": "quantitative"}, "y": {"field": "d", "type": "quantitative"}, "text": {"field": "t"}}}
      ]
    },
    {
      "width": 273, "height": 192,
      "layer": [
        {"data": {"name": "dos"}, "transform": [{"filter": "datum.p === 'd' && datum.s === 'FCC'"}],
         "mark": {"type": "area", "color": "#ff9ba3", "opacity": 1, "clip": true},
         "encoding": {
           "x": {"field": "E", "type": "quantitative", "scale": {"domain": [-8, 3]}, "axis": {"orient": "bottom", "values": [-8,-7,-6,-5,-4,-3,-2,-1,0,1,2], "labelExpr": "datum.value % 2 === 0 ? '' + datum.value : ''", "tickSize": {"condition": {"test": "datum.value % 2 === 0", "value": -10}, "value": -5}, "labelPadding": 11, "labelFlush": true, "title": null}},
           "y": {"field": "d", "type": "quantitative", "scale": {"domain": [0, 3.5]}, "axis": {"orient": "left", "values": [0,0.5,1,1.5,2,2.5,3], "labels": false, "tickSize": {"condition": {"test": "datum.value % 1 === 0", "value": -10}, "value": -5}, "title": null}}}},
        {"data": {"name": "dos"}, "transform": [{"filter": "datum.p === 'd'"}],
         "mark": {"type": "line", "strokeWidth": 1.7, "clip": true},
         "encoding": {"x": {"field": "E", "type": "quantitative"}, "y": {"field": "d", "type": "quantitative"},
           "color": {"field": "s", "type": "nominal", "scale": {"domain": ["FCC", "BCC"], "range": ["#ff0000", "#000000"]},
             "legend": {"orient": "none", "legendX": 185, "legendY": 17, "title": null, "symbolType": "stroke", "symbolSize": 441, "symbolStrokeWidth": 2, "labelFont": "Liberation Serif", "labelFontSize": 20, "labelColor": "#000", "labelOffset": 12, "strokeColor": "#000", "fillColor": "#fff", "padding": 3, "rowPadding": -3}}}},
        {"data": {"values": [{"E": 0}]},
         "mark": {"type": "rule", "color": "#000", "strokeWidth": 1, "strokeDash": [5, 3]},
         "encoding": {"x": {"field": "E", "type": "quantitative"}}},
        {"data": {"values": [{"E": -7.08, "d": 2.95, "t": "(d) DLM-MD 1662 K"}]},
         "mark": {"type": "text", "align": "left", "baseline": "middle", "font": "Liberation Serif", "fontSize": 15, "color": "#000"},
         "encoding": {"x": {"field": "E", "type": "quantitative"}, "y": {"field": "d", "type": "quantitative"}, "text": {"field": "t"}}}
      ]
    }
  ]
}
